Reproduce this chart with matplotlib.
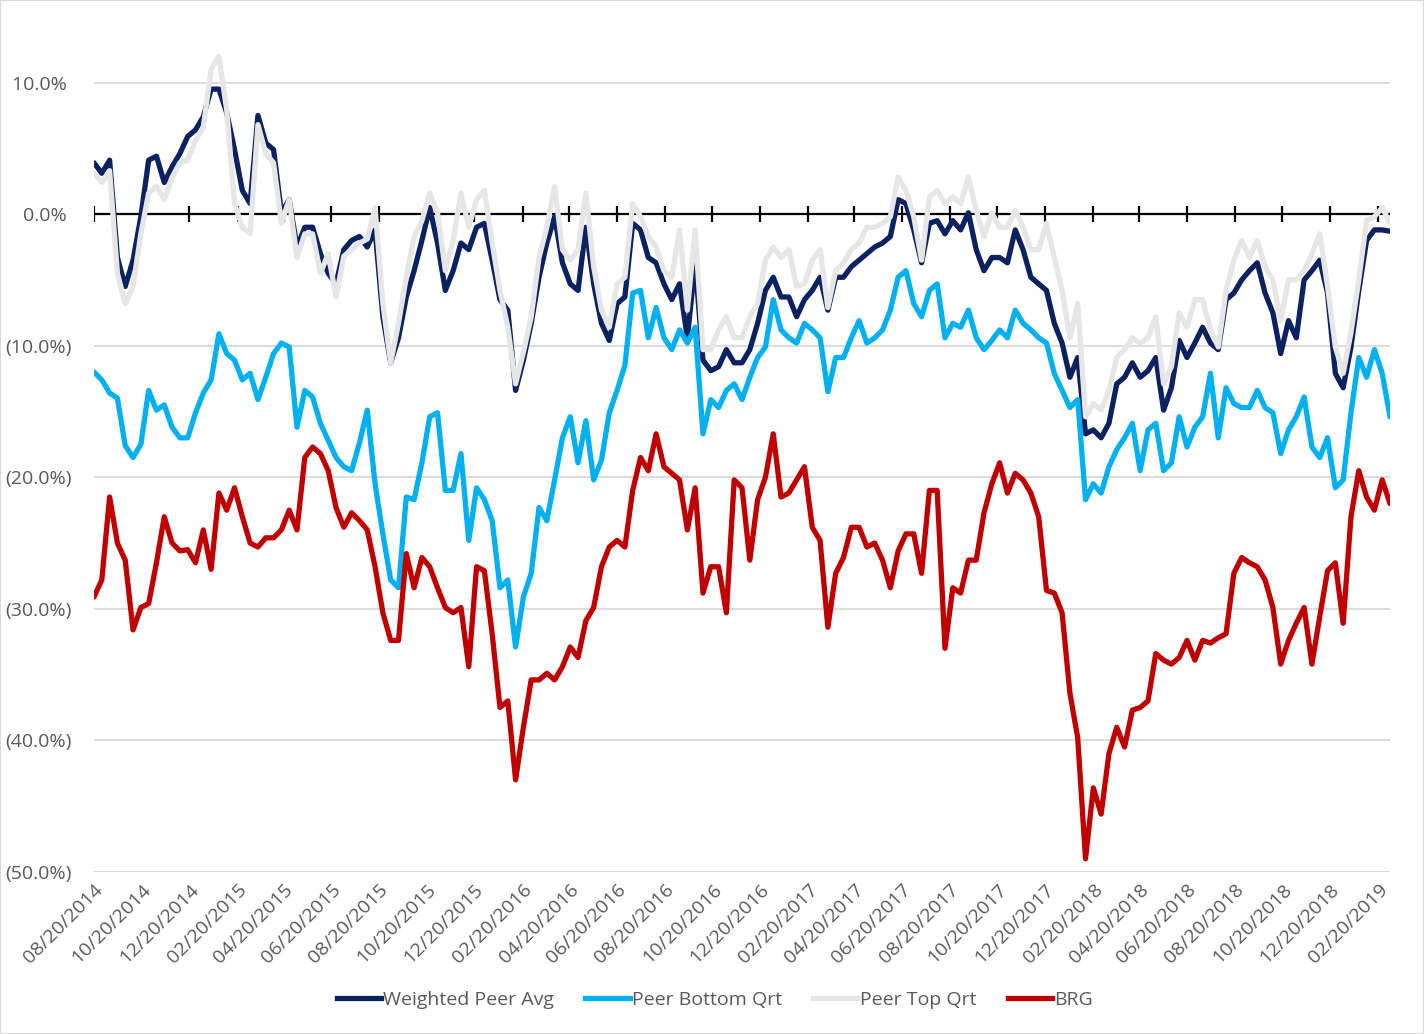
import matplotlib
matplotlib.use("Agg")
import matplotlib.pyplot as plt
import matplotlib.dates as mdates
from matplotlib.patches import Rectangle
from matplotlib.lines import Line2D
import pandas as pd

# ---------------- data (percent) ----------------
start_date = "2014-08-20"
step = "10D"

weighted_peer_avg = [
    3.9, 3.1, 4.1, -3.3, -5.5, -3.5, -0.2, 4.1, 4.4, 2.4,
    3.6, 4.6, 5.9, 6.4, 7.4, 9.5, 9.5, 7.7, 4.9, 1.8,
    0.8, 7.5, 5.4, 4.9, 0.1, 1.1, -2.5, -1.0, -1.0, -3.0,
    -4.5, -5.3, -2.7, -2.0, -1.7, -2.5, -1.2, -7.8, -11.3, -9.4,
    -6.3, -4.3, -2.0, 0.5, -2.2, -5.8, -4.3, -2.2, -2.7, -1.0,
    -0.7, -3.5, -6.5, -7.3, -13.4, -11.1, -8.3, -4.8, -2.2, -0.2,
    -3.7, -5.3, -5.8, -1.0, -5.3, -8.3, -9.6, -6.8, -6.3, -0.7,
    -1.2, -3.3, -3.7, -5.3, -6.5, -5.3, -9.4, -3.7, -11.1, -11.9,
    -11.6, -10.3, -11.3, -11.3, -10.3, -8.3, -5.8, -4.8, -6.3, -6.3,
    -7.8, -6.5, -5.8, -4.8, -7.3, -4.8, -4.8, -4.0, -3.5, -3.0,
    -2.5, -2.2, -1.7, 1.1, 0.8, -1.2, -3.7, -0.7, -0.5, -1.5,
    -0.5, -1.2, 0.1, -2.7, -4.3, -3.3, -3.3, -3.7, -1.2, -2.7,
    -4.8, -5.3, -5.8, -8.3, -9.8, -12.4, -10.9, -16.7, -16.4, -17.0,
    -15.9, -12.9, -12.4, -11.3, -12.4, -11.9, -10.9, -14.9, -13.2, -9.6,
    -10.9, -9.8, -8.6, -9.8, -10.3, -6.5, -6.0, -5.0, -4.3, -3.7,
    -6.0, -7.5, -10.6, -8.1, -9.4, -5.0, -4.3, -3.5, -6.0, -12.1,
    -13.2, -10.1, -5.8, -2.0, -1.2, -1.2, -1.3,
]

peer_bottom_qrt = [
    -12.0, -12.6, -13.6, -14.0, -17.6, -18.5, -17.5, -13.4, -14.9, -14.5,
    -16.2, -17.0, -17.0, -15.1, -13.6, -12.6, -9.1, -10.6, -11.1, -12.6,
    -12.1, -14.1, -12.4, -10.6, -9.8, -10.1, -16.2, -13.4, -13.9, -15.9,
    -17.2, -18.5, -19.2, -19.5, -17.4, -14.9, -20.5, -24.3, -27.8, -28.4,
    -21.5, -21.7, -18.9, -15.4, -15.1, -21.0, -21.0, -18.2, -24.8, -20.8,
    -21.7, -23.3, -28.4, -27.8, -32.9, -29.1, -27.3, -22.3, -23.3, -20.2,
    -17.0, -15.4, -18.9, -15.7, -20.2, -18.7, -15.1, -13.4, -11.5, -6.0,
    -5.8, -9.4, -7.1, -9.4, -10.3, -8.8, -9.8, -8.6, -16.7, -14.1,
    -14.7, -13.4, -12.9, -14.1, -12.4, -10.9, -10.1, -6.5, -8.8, -9.4,
    -9.8, -8.3, -8.8, -9.4, -13.5, -10.9, -10.9, -9.4, -8.1, -9.8,
    -9.4, -8.8, -7.3, -4.8, -4.3, -6.8, -7.8, -5.8, -5.3, -9.4,
    -8.3, -8.6, -7.3, -9.4, -10.3, -9.6, -8.8, -9.4, -7.3, -8.3,
    -8.8, -9.4, -9.8, -12.1, -13.4, -14.7, -14.1, -21.7, -20.5, -21.2,
    -19.2, -17.9, -17.0, -15.9, -19.5, -16.4, -15.9, -19.5, -18.9, -15.4,
    -17.7, -16.2, -15.4, -12.1, -17.0, -13.2, -14.4, -14.7, -14.7, -13.4,
    -14.7, -15.1, -18.2, -16.4, -15.4, -13.9, -17.7, -18.5, -17.0, -20.8,
    -20.2, -15.1, -10.9, -12.4, -10.3, -12.1, -15.4,
]

peer_top_qrt = [
    3.1, 2.4, 3.3, -4.5, -6.8, -5.5, -1.5, 1.6, 2.1, 1.1,
    2.8, 3.9, 4.1, 5.6, 6.6, 11.0, 12.0, 7.9, 0.8, -1.0,
    -1.5, 6.8, 4.6, 3.9, -0.7, 1.1, -3.3, -1.5, -1.5, -4.5,
    -3.0, -6.3, -3.2, -2.7, -2.2, -1.9, 0.5, -6.8, -11.3, -8.3,
    -4.8, -1.7, -0.5, 1.6, 0.1, -4.3, -2.0, 1.6, -1.0, 1.1,
    1.8, -2.2, -5.8, -8.6, -12.9, -10.5, -7.8, -3.3, -1.0, 2.1,
    -2.7, -3.5, -2.7, 1.6, -4.0, -7.3, -8.6, -5.3, -4.8, 0.8,
    -0.2, -1.7, -2.5, -4.3, -4.8, -1.2, -7.3, -1.2, -10.3, -10.3,
    -8.8, -7.8, -9.4, -9.4, -7.8, -6.8, -3.5, -2.5, -3.3, -2.7,
    -5.5, -5.3, -3.5, -2.7, -7.1, -4.3, -3.7, -2.7, -2.2, -1.0,
    -1.0, -0.7, -0.2, 2.8, 1.8, -0.2, -3.5, 1.3, 1.8, 0.8,
    1.3, 0.8, 2.8, 0.3, -1.7, 0.1, -1.0, -1.0, 0.3, -1.0,
    -2.7, -2.7, -0.7, -3.3, -5.8, -9.4, -6.8, -15.4, -14.4, -14.9,
    -13.4, -10.9, -10.3, -9.4, -9.8, -9.4, -7.8, -12.9, -11.6, -7.5,
    -8.6, -6.5, -6.5, -8.8, -10.1, -5.8, -3.5, -2.0, -3.3, -2.0,
    -4.0, -5.0, -8.1, -5.0, -5.0, -4.3, -3.0, -1.5, -5.5, -10.1,
    -12.1, -9.0, -5.0, -0.5, -0.2, 0.5, -0.7,
]

brg = [
    -29.1, -27.8, -21.5, -25.0, -26.3, -31.6, -29.9, -29.6, -26.5, -23.0,
    -25.0, -25.6, -25.5, -26.5, -24.0, -27.0, -21.2, -22.5, -20.8, -23.0,
    -25.0, -25.3, -24.6, -24.6, -24.0, -22.5, -24.0, -18.5, -17.7, -18.2,
    -19.5, -22.3, -23.8, -22.7, -23.3, -24.0, -26.8, -30.3, -32.4, -32.4,
    -25.8, -28.4, -26.1, -26.8, -28.4, -29.9, -30.3, -29.9, -34.4, -26.8,
    -27.1, -31.9, -37.5, -37.0, -43.0, -39.0, -35.4, -35.4, -34.9, -35.4,
    -34.4, -32.9, -33.7, -30.9, -29.9, -26.8, -25.3, -24.8, -25.3, -21.0,
    -18.5, -19.5, -16.7, -19.2, -19.7, -20.2, -24.0, -20.8, -28.8, -26.8,
    -26.8, -30.3, -20.2, -20.8, -26.3, -21.7, -20.0, -16.7, -21.5, -21.2,
    -20.2, -19.2, -23.8, -24.8, -31.4, -27.3, -26.1, -23.8, -23.8, -25.3,
    -25.0, -26.3, -28.4, -25.6, -24.3, -24.3, -27.3, -21.0, -21.0, -33.0,
    -28.4, -28.8, -26.3, -26.3, -22.7, -20.5, -18.9, -21.2, -19.7, -20.2,
    -21.2, -23.0, -28.6, -28.8, -30.3, -36.4, -39.8, -49.0, -43.6, -45.6,
    -41.0, -39.0, -40.5, -37.7, -37.5, -37.0, -33.4, -33.9, -34.2, -33.7,
    -32.4, -33.9, -32.4, -32.6, -32.2, -31.9, -27.3, -26.1, -26.5, -26.8,
    -27.8, -29.9, -34.2, -32.4, -31.1, -29.9, -34.2, -30.6, -27.1, -26.5,
    -31.1, -23.0, -19.5, -21.5, -22.5, -20.2, -22.0,
]

series_names = ["Weighted Peer Avg", "Peer Bottom Qrt", "Peer Top Qrt", "BRG"]
series_values = [weighted_peer_avg, peer_bottom_qrt, peer_top_qrt, brg]

tick_dates = pd.date_range("2014-08-01", "2019-02-01", freq="2MS") + pd.Timedelta(days=19)
y_ticks = [10, 0, -10, -20, -30, -40, -50]

# ---------------- style ----------------
colors = ["#0B2160", "#00B0F0", "#E6E6E6", "#C00000"]
FONT = "Open Sans"
TXT = "#595959"
FS = 14

plt.rcParams["font.family"] = [FONT, "DejaVu Sans"]

fig = plt.figure(figsize=(14.24, 10.34), dpi=100)
fig.patches.append(Rectangle((0, 0), 1, 1, transform=fig.transFigure,
                             fill=False, edgecolor="#D9D9D9", lw=1.5))
W, H = 1424, 1034
ax = fig.add_axes([94 / W, 1 - 872 / H, (1390 - 94) / W, (872 - 22) / H])

for name, vals, c in zip(series_names, series_values, colors):
    dates = pd.date_range(start_date, periods=len(vals), freq=step)
    ax.plot(dates, vals, color=c, lw=3.8, solid_joinstyle="round",
            solid_capstyle="round", label=name, zorder=3)

ax.axhline(0, color="black", lw=1.6, zorder=2)
ax.plot(tick_dates, [0] * len(tick_dates), ls="none", marker="|",
        ms=11, mew=1.6, color="black", zorder=2)

ax.set_ylim(-50, 14.6)
ax.set_xlim(pd.Timestamp(start_date), pd.Timestamp(start_date) + pd.Timedelta(days=1660))
ax.set_yticks(y_ticks)
ax.set_yticklabels([f"{v:.1f}% " if v >= 0 else f"({abs(v):.1f}%)" for v in y_ticks])
ax.yaxis.grid(True, color="#D9D9D9", lw=1.3, zorder=0)
ax.set_axisbelow(True)

ax.set_xticks(tick_dates)
ax.xaxis.set_major_formatter(mdates.DateFormatter("%m/%d/%Y"))
for lab in ax.get_xticklabels():
    lab.set_rotation(45)
    lab.set_ha("right")
    lab.set_rotation_mode("anchor")

ax.tick_params(axis="both", length=0, colors=TXT, labelsize=FS)
ax.tick_params(axis="y", pad=16)
ax.tick_params(axis="x", pad=6)
for s in ax.spines.values():
    s.set_visible(False)

handles = [Line2D([0], [0], color=c, lw=3.8) for c in colors]
leg = fig.legend(handles, series_names, loc="center", bbox_to_anchor=(0.502, 0.033),
                 ncol=4, frameon=False, fontsize=FS, handlelength=2.3,
                 handletextpad=0.1, columnspacing=1.6)
for t in leg.get_texts():
    t.set_color(TXT)

fig.savefig("out.png", dpi=100)
